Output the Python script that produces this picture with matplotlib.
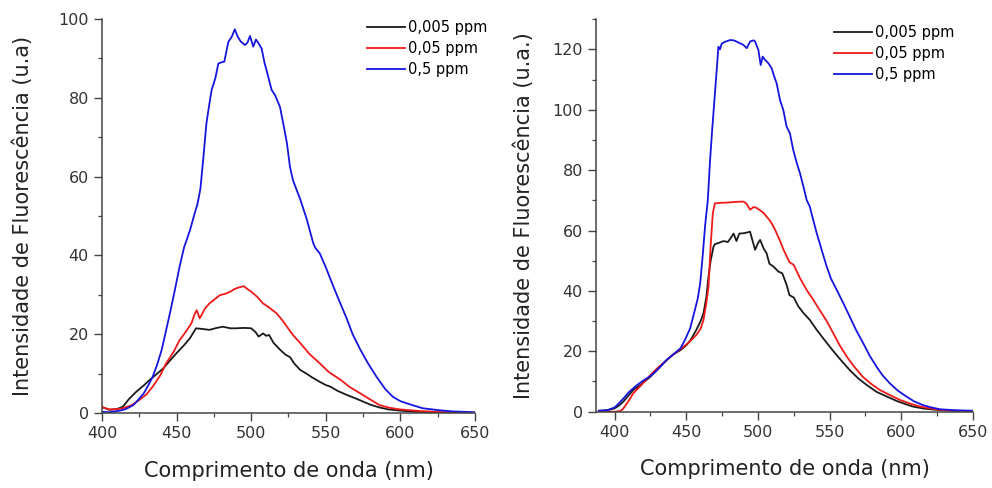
import matplotlib
matplotlib.use("Agg")
import matplotlib.pyplot as plt
from matplotlib.ticker import MultipleLocator

plt.rcParams['font.family'] = 'DejaVu Sans'

# ---- left panel data (wavelength nm, intensity u.a.) ----
l_black_x = [400, 405, 410, 414, 418, 423, 428, 432, 437, 441, 446, 450, 455, 459, 463, 468, 472, 477,
             481, 486, 490, 495, 500, 503, 505, 508, 510, 512, 515, 519, 523, 526, 529, 533, 537, 541,
             546, 550, 553, 558, 564, 570, 575, 580, 586, 592, 600, 610, 625, 650]
l_black_y = [1.5, 0.8, 1.0, 1.6, 3.5, 5.4, 7.0, 8.4, 10.0, 11.3, 13.5, 15.2, 17.2, 19.0, 21.5, 21.3, 21.1, 21.6,
             21.9, 21.5, 21.5, 21.6, 21.5, 20.5, 19.4, 20.2, 19.6, 19.8, 17.8, 16.2, 14.8, 14.2, 12.5, 10.9, 10.0, 9.0,
             7.9, 7.1, 6.7, 5.6, 4.6, 3.7, 2.9, 2.1, 1.4, 0.9, 0.6, 0.3, 0.1, 0.0]

l_red_x = [400, 405, 410, 414, 420, 425, 430, 434, 439, 443, 448, 452, 456, 460, 462, 463.5, 465.5, 469,
           472, 476, 479, 483, 486, 489, 492, 495, 497, 500, 504, 508, 512, 517, 521, 524, 528, 533,
           539, 546, 552, 560, 566, 573, 580, 586, 593, 600, 613, 630, 650]
l_red_y = [1.5, 0.9, 1.0, 1.2, 2.0, 3.3, 4.8, 6.7, 9.5, 12.6, 15.5, 18.5, 20.5, 22.8, 25.0, 26.1, 24.0, 26.5,
           27.8, 29.0, 29.9, 30.3, 30.8, 31.5, 31.9, 32.2, 31.6, 30.8, 29.5, 27.8, 26.8, 25.3, 23.5, 21.9, 19.8, 17.7,
           15.0, 12.6, 10.4, 8.4, 6.6, 5.0, 3.4, 2.0, 1.3, 0.9, 0.5, 0.2, 0.0]

l_blue_x = [400, 405, 412, 416, 421, 424, 428, 431, 434, 437, 440, 443, 446, 449, 452, 455, 459, 462,
            464, 466, 468, 470, 472, 473.5, 476, 478, 480, 482, 484.7, 487, 489, 491, 493, 495.8, 497.5,
            499.2, 501.4, 503.2, 505, 507, 509, 511, 513.7, 516, 519.3, 522, 524, 526, 528, 533, 537,
            541.6, 543, 546, 550, 555, 559, 564, 568, 573, 578, 584, 590, 595, 600, 608, 615, 626, 635, 650]
l_blue_y = [0.3, 0.2, 0.6, 1.0, 2.0, 3.2, 5.0, 7.0, 9.2, 12.3, 16.0, 21.0, 26.1, 31.5, 37.1, 42.0, 46.4, 50.5,
            53.0, 57.0, 65.0, 73.5, 78.5, 82.0, 85.0, 88.7, 89.0, 89.2, 94.2, 95.5, 97.4, 95.5, 94.3, 93.4, 94.0,
            95.7, 93.0, 94.8, 93.8, 92.5, 88.8, 86.0, 82.0, 80.7, 77.7, 72.5, 68.4, 62.5, 59.1, 54.1, 49.5,
            43.1, 41.9, 40.5, 37.0, 32.2, 28.5, 24.0, 20.0, 16.2, 12.8, 9.2, 6.0, 4.1, 3.0, 2.0, 1.2, 0.7, 0.4, 0.2]

# ---- right panel data ----
r_black_x = [389, 395, 400, 403, 406, 410, 413, 417, 421, 425, 430, 436, 441, 446, 450, 453, 457, 460,
             462, 464, 465.5, 467, 469, 470, 472, 476, 479, 481, 483, 485, 487, 490, 492, 494.5, 496, 498,
             500, 501.5, 504, 506, 508, 511, 514, 517, 520, 522, 525, 528, 532, 536, 541, 546, 552, 558,
             564, 570, 576, 583, 590, 597, 603, 608, 616, 625, 635, 650]
r_black_y = [0.3, 0.5, 1.1, 2.0, 3.3, 5.5, 7.2, 8.5, 10.0, 11.6, 14.0, 17.0, 19.0, 20.4, 22.0, 23.7, 27.1, 30.0,
             32.6, 38.0, 44.7, 50.0, 54.7, 55.5, 55.8, 56.5, 56.2, 57.5, 59.0, 56.5, 59.0, 59.1, 59.3, 59.6, 57.0, 53.6,
             55.8, 56.9, 54.0, 52.5, 49.0, 48.0, 46.5, 45.8, 42.0, 38.6, 37.8, 35.0, 32.5, 30.5, 27.1, 24.0, 20.4, 17.0,
             13.8, 11.0, 8.8, 6.5, 5.0, 3.5, 2.5, 1.7, 1.0, 0.6, 0.3, 0.0]

r_red_x = [389, 400, 404, 406, 408.6, 411, 413, 418, 424.9, 430, 436.5, 442, 448, 452, 457, 460, 462, 464,
           465.5, 467, 468.5, 470, 475, 480, 485, 489.8, 492, 494.5, 497, 499, 502, 504, 506, 508, 510,
           512, 515, 518, 522, 525, 529, 534, 538, 543, 548, 552.5, 557, 562, 567, 573, 579, 585, 592,
           599, 606, 613, 620, 627, 640, 650]
r_red_y = [0.0, 0.0, 0.2, 1.0, 2.8, 4.5, 6.1, 8.5, 12.1, 14.5, 17.1, 19.3, 21.5, 23.0, 25.4, 27.5, 30.4, 36.0,
           41.4, 55.0, 65.7, 69.0, 69.2, 69.3, 69.5, 69.6, 68.9, 66.9, 67.8, 67.5, 66.5, 65.8, 64.6, 63.5, 62.0,
           60.2, 57.0, 53.5, 49.5, 48.6, 44.5, 40.3, 37.5, 33.7, 30.0, 26.0, 22.0, 18.2, 15.0, 11.6, 9.2, 7.2, 5.5,
           3.9, 2.7, 1.7, 1.1, 0.6, 0.2, 0.0]

r_blue_x = [389, 395, 400, 403, 406, 410, 415.6, 420, 425, 430, 436, 441, 446, 449, 452.7, 456, 458,
            459.7, 461.5, 463.2, 465, 466.6, 468, 470, 471.5, 472.4, 473.5, 474.7, 477, 480.6, 483, 485,
            487.5, 489.8, 492.2, 494.5, 497, 498, 500.3, 501.9, 503.3, 505, 507.3, 509.6, 511, 513,
            515.4, 517.7, 520, 522.3, 524.6, 527, 529.3, 532, 534, 536.2, 538, 541, 544.5, 548, 551,
            555, 559.5, 564, 568.5, 573.4, 578, 582.7, 587, 592, 597.5, 603.6, 609, 615, 621, 627, 637, 650]
r_blue_y = [0.3, 0.5, 1.4, 2.8, 4.3, 6.5, 8.8, 10.3, 11.8, 14.0, 17.0, 19.0, 21.0, 23.7, 27.6, 33.7, 37.5,
            42.5, 52.0, 62.0, 70.0, 83.4, 93.0, 105.5, 115.0, 120.9, 120.0, 121.9, 122.5, 123.1, 123.0, 122.6,
            122.0, 121.5, 120.4, 122.6, 123.0, 122.6, 119.8, 114.8, 117.6, 116.5, 115.4, 113.7, 111.5, 108.8,
            103.2, 99.9, 94.4, 92.2, 86.7, 82.5, 79.0, 74.0, 70.1, 67.9, 64.5, 59.1, 53.5, 48.0, 44.0,
            40.3, 36.0, 31.5, 27.0, 22.7, 18.5, 14.9, 12.0, 9.4, 7.0, 5.0, 3.4, 2.2, 1.4, 0.8, 0.5, 0.3]

labels = ['0,005 ppm', '0,05 ppm', '0,5 ppm']
colors = ['#1a1a1a', '#f01818', '#1515e0']

fig = plt.figure(figsize=(9.92, 4.88), dpi=100)
ax1 = fig.add_axes([0.1028, 0.1537, 0.376, 0.8073])
ax2 = fig.add_axes([0.6008, 0.1564, 0.380, 0.8043])

left_series = [(l_black_x, l_black_y), (l_red_x, l_red_y), (l_blue_x, l_blue_y)]
right_series = [(r_black_x, r_black_y), (r_red_x, r_red_y), (r_blue_x, r_blue_y)]

for ax, series in [(ax1, left_series), (ax2, right_series)]:
    for (x, y), c, lab in zip(series, colors, labels):
        ax.plot(x, y, color=c, lw=1.3, label=lab)
    for s in ['top', 'right']:
        ax.spines[s].set_visible(False)
    for s in ['left', 'bottom']:
        ax.spines[s].set_color('#444444')
        ax.spines[s].set_linewidth(1.1)
    ax.tick_params(which='major', direction='out', length=6, width=1.0, color='#444444',
                   labelsize=11.5, labelcolor='#333333')
    ax.tick_params(which='minor', direction='out', length=3, width=0.9, color='#444444')
    ax.xaxis.set_major_locator(MultipleLocator(50))
    ax.xaxis.set_minor_locator(MultipleLocator(25))
    ax.set_xlabel('Comprimento de onda (nm)', fontsize=15, color='#222222', labelpad=14)

ax1.set_xlim(400, 650)
ax1.set_ylim(0, 100)
ax1.yaxis.set_major_locator(MultipleLocator(20))
ax1.yaxis.set_minor_locator(MultipleLocator(10))
ax1.set_ylabel('Intensidade de Fluorescência (u.a)', fontsize=15, color='#222222', labelpad=18)

ax2.set_xlim(387, 650)
ax2.set_ylim(0, 130)
ax2.yaxis.set_major_locator(MultipleLocator(20))
ax2.yaxis.set_minor_locator(MultipleLocator(10))
ax2.set_ylabel('Intensidade de Fluorescência (u.a.)', fontsize=15, color='#222222', labelpad=13)

leg_kw = dict(loc='upper left', bbox_transform=fig.transFigure, frameon=False, fontsize=10.5,
              handlelength=2.6, handletextpad=0.2, labelspacing=0.42, borderpad=0, borderaxespad=0)
ax1.legend(bbox_to_anchor=(367 / 992, 1 - 20 / 488), **leg_kw)
ax2.legend(bbox_to_anchor=(834 / 992, 1 - 25 / 488), **leg_kw)

plt.savefig('out.png', dpi=100)
plt.close()
